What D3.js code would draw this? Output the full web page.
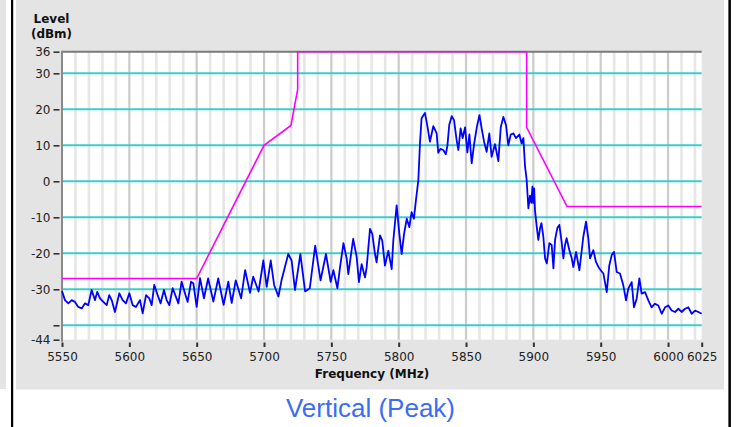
<!DOCTYPE html>
<html>
<head>
<meta charset="utf-8">
<script src="https://cdn.jsdelivr.net/npm/d3@7"></script>
<style>
  html, body { margin: 0; padding: 0; background: #ffffff; }
  svg { display: block; }
</style>
</head>
<body>
<svg id="chart" width="738" height="427"></svg>
<script>
// ---------------- data ----------------
const yTickValues = [36, 30, 20, 10, 0, -10, -20, -30, -40, -44];
const yTickLabels = ["36", "30", "20", "10", "0", "-10", "-20", "-30", "", "-44"];
const yGridValues = [30, 20, 10, 0, -10, -20, -30, -40];
const xTickValues = [5550, 5600, 5650, 5700, 5750, 5800, 5850, 5900, 5950, 6000, 6025];
const xTickLabels = ["5550", "5600", "5650", "5700", "5750", "5800", "5850", "5900", "5950", "6000", "6025"];

// spectral mask (magenta)
const maskFreq  = [5550, 5650, 5700, 5720, 5725, 5725, 5895, 5895, 5925, 6025];
const maskLevel = [-27, -27, 10, 15.5, 25.5, 36, 36, 15, -7, -7];

// measured trace (blue), peak detector
const traceFreq = [
  5550, 5552.2, 5554.7, 5557.2, 5559.6, 5562.1, 5564.6, 5567.1, 5569.5, 5572,
  5574.5, 5576.2, 5578.2, 5580.7, 5583.2, 5585.1, 5586.9, 5589.3, 5592.6, 5595,
  5597.5, 5600, 5602.5, 5604.9, 5607.9, 5609.9, 5612.4, 5614.8, 5616.6, 5618.5,
  5621, 5623.2, 5625.7, 5627.7, 5629.7, 5632.2, 5634.6, 5636.4, 5638.8, 5641.3,
  5643.3, 5645.8, 5647.5, 5650, 5652.5, 5655.4, 5658.5, 5662.4, 5666, 5670,
  5673.5, 5676, 5679, 5683, 5686, 5689.6, 5692, 5696, 5699.5, 5702,
  5705, 5707.5, 5710.7, 5713, 5718, 5720.5, 5723, 5727, 5730.5, 5734,
  5738, 5742, 5746, 5749.5, 5751.5, 5754.5, 5756.4, 5759, 5761.4, 5762.6,
  5766.2, 5768.8, 5770.5, 5772.5, 5775, 5776.2, 5778.7, 5780.4, 5782.4, 5783.6,
  5786.1, 5787.8, 5789.8, 5792.3, 5794.8, 5796, 5798.5, 5800.5, 5802.2, 5804,
  5806, 5807.9, 5809.6, 5811.3, 5812.8, 5814.6, 5815.8, 5817, 5819.5, 5821.2,
  5823.2, 5825.7, 5828.2, 5829.4, 5831, 5833.1, 5835, 5836.2, 5837.6, 5839.4,
  5841.1, 5843, 5844.3, 5846, 5847.5, 5849.3, 5851, 5852.5, 5854.2, 5856,
  5858, 5860, 5861.6, 5863.4, 5865.3, 5867.3, 5869, 5871.5, 5874, 5875.8,
  5877.7, 5879.7, 5881.4, 5883.2, 5885.2, 5887.1, 5889.6, 5891.3, 5892.6, 5893.8,
  5895, 5896.3, 5897.5, 5898.5, 5899.3, 5900, 5900.6, 5901.2, 5902.5, 5903.7,
  5905, 5906, 5907.4, 5908.7, 5910, 5911.9, 5913.6, 5914.9, 5916.1, 5917.8,
  5919.3, 5921, 5922.3, 5923.5, 5924.7, 5926.7, 5928.5, 5929.7, 5931.7, 5934.2,
  5937.1, 5939.1, 5940.8, 5942.1, 5944.5, 5946.5, 5948.3, 5950, 5952, 5954.5,
  5956.4, 5958.2, 5959.9, 5961.9, 5964.3, 5966.8, 5968.8, 5970.5, 5973, 5974.7,
  5976.7, 5978.7, 5980.4, 5982.9, 5985.4, 5987.8, 5990.3, 5992.8, 5995.3, 5997.8,
  6000.2, 6002.7, 6005.2, 6007.7, 6010.1, 6012.6, 6015.1, 6017.6, 6020, 6022.5,
  6025
];
const traceLevel = [
  -30.5, -33, -33.9, -33, -33.5, -34.9, -35.3, -33.9, -34.4, -30.2,
  -33, -30.7, -32.5, -33.5, -34.4, -31.6, -33, -36.3, -31.1, -33,
  -33.9, -31.1, -34.4, -34.9, -33, -36.7, -31.6, -32.5, -34.4, -28.8,
  -31.6, -33.9, -30.2, -33, -34.4, -29.7, -32.1, -33.9, -27.9, -31.1,
  -33.5, -27.9, -28.3, -34.9, -26.9, -32.5, -27, -33.4, -27, -34.3,
  -27.9, -33.8, -27.5, -32.5, -24.7, -31, -26.5, -30.6, -22, -29.3,
  -22, -28.8, -32, -27.5, -20.2, -22, -30.2, -20.2, -30.6, -29.7,
  -17.9, -27.5, -20.2, -27.9, -24.7, -29.7, -24, -17.2, -21.5, -25.8,
  -16, -21, -28, -23, -26.7, -24, -13.2, -14.6, -20.2, -22.5,
  -15, -16.5, -23.4, -19.3, -24.4, -16.5, -6.7, -14.6, -20.2, -14.6,
  -10.4, -12.7, -8.6, -10.4, -5.3, 0.3, 10.5, 17.5, 19, 15.6,
  11, 15.3, 13.3, 7.9, 9, 8.7, 7.5, 10, 15.8, 18.1,
  17, 11.5, 8.7, 14.7, 12, 15, 8, 13, 5, 10.3,
  15, 18.4, 14.7, 11, 8.2, 13.3, 6.8, 10.3, 5.6, 15,
  17.9, 15.6, 10, 13, 13.3, 12, 13, 10.5, 12, 4.2,
  0.5, -7.5, -4, -6, -1.5, -6, -2, -8, -12.6, -16.3,
  -13, -11.6, -15.4, -21.4, -22.8, -17.2, -17.7, -24.2, -16.3, -13,
  -12.1, -16.8, -21.4, -17.7, -15.8, -19.1, -21.4, -23.8, -19.6, -24.7,
  -15.4, -11.2, -15.8, -21.4, -19.1, -22.4, -23.8, -24.7, -25.6, -30.8,
  -23.3, -20.5, -19.6, -25.2, -25.6, -28.9, -33.1, -29.8, -28, -35,
  -32.6, -27, -31.2, -30.8, -33.1, -35, -34, -34.5, -36.8, -35,
  -34.5, -35.9, -36.3, -35.4, -36.3, -35.4, -35, -36.8, -35.9, -36.3,
  -36.8
];

// ---------------- drawing ----------------
const svg = d3.select("#chart");
const W = 738, H = 427;
const plotLeft = 62, plotRight = 701.7, plotTop = 51.7, plotBottom = 339.7;

const x = d3.scaleLinear().domain([5550, 6025]).range([plotLeft, plotRight]);
const y = d3.scaleLinear().domain([-44, 36]).range([plotBottom, plotTop]);

// outer frame
svg.append("rect").attr("x", 0).attr("y", 0).attr("width", 6).attr("height", 389).attr("fill", "#e4e4e4");
svg.append("rect").attr("x", 16).attr("y", 0).attr("width", 708).attr("height", 389.5).attr("fill", "#e4e4e4");
svg.append("rect").attr("x", 11).attr("y", 0).attr("width", 2.2).attr("height", H).attr("fill", "#000");
svg.append("rect").attr("x", 728.4).attr("y", 0).attr("width", 2.5).attr("height", H).attr("fill", "#000");

// plot background
svg.append("rect").attr("x", plotLeft).attr("y", plotTop)
  .attr("width", plotRight - plotLeft).attr("height", plotBottom - plotTop).attr("fill", "#fff");

// vertical grid
const vGrid = d3.range(5560, 6025, 10);
svg.append("g").selectAll("line").data(vGrid).join("line")
  .attr("x1", d => x(d)).attr("x2", d => x(d))
  .attr("y1", plotTop).attr("y2", plotBottom)
  .attr("stroke", d => (d % 50 === 0) ? "#cbcbcb" : "#e6e6e6")
  .attr("stroke-width", d => (d % 50 === 0) ? 2.2 : 2.6);

// horizontal grid
svg.append("g").selectAll("line").data(yGridValues).join("line")
  .attr("x1", plotLeft).attr("x2", plotRight)
  .attr("y1", d => y(d)).attr("y2", d => y(d))
  .attr("stroke", "#3ccccc").attr("stroke-width", 2);

// top border & left axis line
svg.append("line").attr("x1", plotLeft).attr("x2", plotRight).attr("y1", plotTop).attr("y2", plotTop)
  .attr("stroke", "#7a7a7a").attr("stroke-width", 2);
svg.append("line").attr("x1", plotLeft).attr("x2", plotLeft).attr("y1", plotTop - 1).attr("y2", plotBottom + 2)
  .attr("stroke", "#8a8a8a").attr("stroke-width", 2);

// mask
const maskData = maskFreq.map((f, i) => [f, maskLevel[i]]);
svg.append("path").datum(maskData)
  .attr("fill", "none").attr("stroke", "#ff00ff").attr("stroke-width", 1.6)
  .attr("d", d3.line().x(d => x(d[0])).y(d => y(d[1])));

// trace
const traceData = traceFreq.map((f, i) => [f, traceLevel[i]]);
svg.append("path").datum(traceData)
  .attr("fill", "none").attr("stroke", "#0000ff").attr("stroke-width", 1.8)
  .attr("stroke-linejoin", "round")
  .attr("d", d3.line().x(d => x(d[0])).y(d => y(d[1])));

// y axis
const yAxis = d3.axisLeft(y).tickValues(yTickValues)
  .tickFormat((d, i) => yTickLabels[i]).tickSize(6).tickPadding(3);
const gy = svg.append("g").attr("transform", "translate(59.5,0)").call(yAxis);
gy.select(".domain").remove();
gy.selectAll(".tick line").attr("stroke", "#333").attr("stroke-width", 1.6);
gy.selectAll(".tick text").attr("font-family", "DejaVu Sans").attr("font-size", 12).attr("fill", "#222");

// x axis
const xAxis = d3.axisBottom(x).tickValues(xTickValues)
  .tickFormat((d, i) => xTickLabels[i]).tickSize(4.5).tickPadding(5.5);
const gx = svg.append("g").attr("transform", "translate(0,342.5)").call(xAxis);
gx.select(".domain").remove();
gx.selectAll(".tick line").attr("stroke", "#333").attr("stroke-width", 2);
gx.selectAll(".tick text").attr("font-family", "DejaVu Sans").attr("font-size", 12).attr("fill", "#222");

// axis titles
svg.append("text").attr("x", 51.5).attr("y", 22.5).attr("text-anchor", "middle")
  .attr("font-family", "DejaVu Sans").attr("font-weight", "bold").attr("font-size", 12).attr("fill", "#111")
  .text("Level");
svg.append("text").attr("x", 51.5).attr("y", 37.5).attr("text-anchor", "middle")
  .attr("font-family", "DejaVu Sans").attr("font-weight", "bold").attr("font-size", 12).attr("fill", "#111")
  .text("(dBm)");
svg.append("text").attr("x", 372).attr("y", 378).attr("text-anchor", "middle")
  .attr("font-family", "DejaVu Sans").attr("font-weight", "bold").attr("font-size", 12).attr("fill", "#111")
  .text("Frequency (MHz)");

// caption
svg.append("text").attr("x", 370.5).attr("y", 416.5).attr("text-anchor", "middle")
  .attr("font-family", "Liberation Sans, Arial, sans-serif").attr("font-size", 26).attr("fill", "#3a6cf4")
  .text("Vertical (Peak)");
</script>
</body>
</html>
